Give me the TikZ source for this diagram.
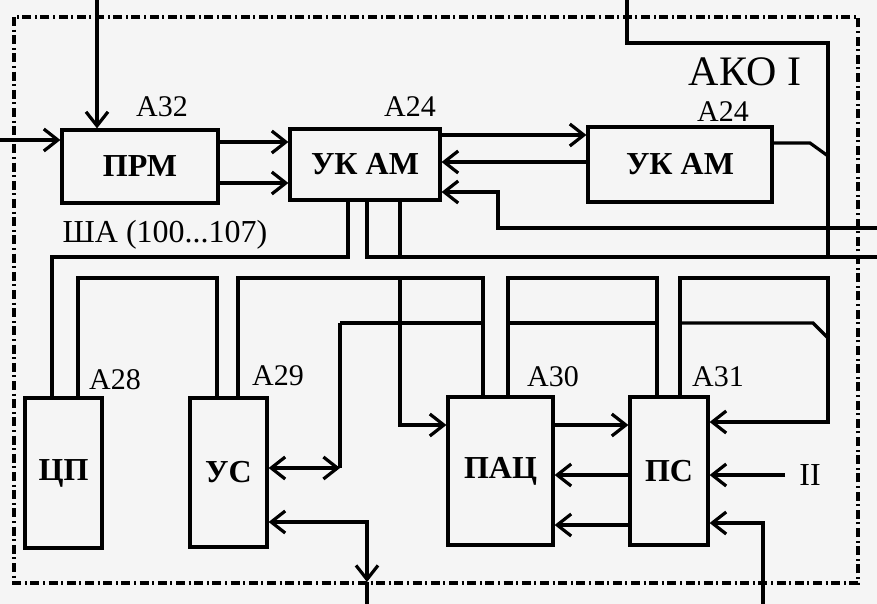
\documentclass[tikz,border=0pt]{standalone}
\usepackage{fontspec}
\setmainfont{Liberation Serif}
\usetikzlibrary{arrows.meta}

\begin{document}
\begin{tikzpicture}[x=0.5pt,y=-0.5pt,>={Straight Barb[length=7pt,width=11pt]},line width=1.6pt,
        blok/.style={draw,line width=1.6pt,inner sep=0pt,font=\fontsize{16}{19}\selectfont\bfseries},
        metka/.style={font=\fontsize{15}{18}\selectfont}]
        \useasboundingbox (0,0) rectangle (877,604);
        \fill[black!4] (0,0) rectangle (877,604);
        \draw[line width=1.8pt,dash pattern=on 4.5pt off 1.8pt on 1pt off 1.8pt] (14,17) rectangle (858,583);
        % bloki
        \node[blok,minimum width=78pt,minimum height=36.5pt] (prm) at (140,166.5) {ПРМ};
        \node[blok,minimum width=75pt,minimum height=35.5pt] (uk1) at (365,164.5) {УК АМ};
        \node[blok,minimum width=92pt,minimum height=37.5pt] (uk2) at (680,164.5) {УК АМ};
        \node[blok,minimum width=38.5pt,minimum height=75pt] (cp) at (63.5,473) {ЦП};
        \node[blok,minimum width=38.5pt,minimum height=74.5pt] (us) at (228.5,472.5) {УС};
        \node[blok,minimum width=52.5pt,minimum height=74pt] (pac) at (500.5,471) {ПАЦ};
        \node[blok,minimum width=39pt,minimum height=74pt] (ps) at (669,471) {ПС};
        % nadpisi
        \node[metka] (a32) at (162,107) {А32};
        \node[metka] (a24l) at (410,107) {А24};
        \node[metka] (a24r) at (723,112) {А24};
        \node[metka] (a28) at (115,380) {А28};
        \node[metka] (a29) at (278,376) {А29};
        \node[metka] (a30) at (553,377) {А30};
        \node[metka] (a31) at (718,377) {А31};
        \node[font=\fontsize{21}{24}\selectfont] (ako) at (745,72) {АКО I};
        \node[font=\fontsize{16}{19}\selectfont] (sha) at (165,235) {ША (100...107)};
        \node[font=\fontsize{16}{19}\selectfont] (dva) at (810,475) {II};
        % svobodnye koncy
        \coordinate (inA) at (97,0);
        \coordinate (inB) at (0,140);
        \coordinate (inC) at (877,228);
        \coordinate (inD) at (627,0);
        \coordinate (outE) at (877,257);
        \coordinate (inF) at (367,604);
        \coordinate (inG) at (763,604);
        % PRM i UK AM
        \draw[->] (inA) -- (inA |- prm.north);
        \draw[->] (inB) -- (inB -| prm.west);
        \draw[->] (prm.east |- 0,142) -- (uk1.west |- 0,142);
        \draw[->] (prm.east |- 0,183) -- (uk1.west |- 0,183);
        \draw[->] (uk1.east |- 0,135) -- (uk2.west |- 0,135);
        \draw[->] (uk2.west |- 0,162) -- (uk1.east |- 0,162);
        \draw[->] (inC) -- (498,228) -- (498,192) -- (uk1.east |- 0,192);
        \draw (inD) -- (627,43) -- (828,43) -- (828,257);
        \draw (uk2.east |- 0,143) -- (810,143) -- (828,156);
        % shina
        \draw (uk1.south -| 348,0) -- (348,257) -- (52,257) -- (cp.north -| 52,0);
        \draw (uk1.south -| 367,0) -- (367,257) -- (outE);
        \draw (uk1.south -| 400,0) -- (400,257);
        \draw (cp.north -| 78,0) -- (78,278) -- (217,278) -- (us.north -| 217,0);
        \draw (us.north -| 238,0) -- (238,278) -- (483,278) -- (pac.north -| 483,0);
        \draw[->] (400,278) -- (400,425) -- (pac.west |- 0,425);
        \draw (pac.north -| 508,0) -- (508,278) -- (657,278) -- (ps.north -| 657,0);
        \draw[->] (ps.north -| 680,0) -- (680,278) -- (828,278) -- (828,422) -- (ps.east |- 0,422);
        \draw (340,323) -- (483,323);
        \draw (508,323) -- (657,323);
        \draw (680,323) -- (813,323) -- (828,338);
        % US
        \draw (340,323) -- (340,468);
        \draw[<->] (us.east |- 0,468) -- (340,468);
        \draw[<->] (us.east |- 0,522) -- (367,522) -- (367,582);
        \draw (367,582) -- (inF);
        % PAC i PS
        \draw[->] (pac.east |- 0,425) -- (ps.west |- 0,425);
        \draw[->] (ps.west |- 0,475) -- (pac.east |- 0,475);
        \draw[->] (ps.west |- 0,525) -- (pac.east |- 0,525);
        \draw[->] (785,475) -- (ps.east |- 0,475);
        \draw[->] (inG) -- (763,523) -- (ps.east |- 0,523);
\end{tikzpicture}
\end{document}
